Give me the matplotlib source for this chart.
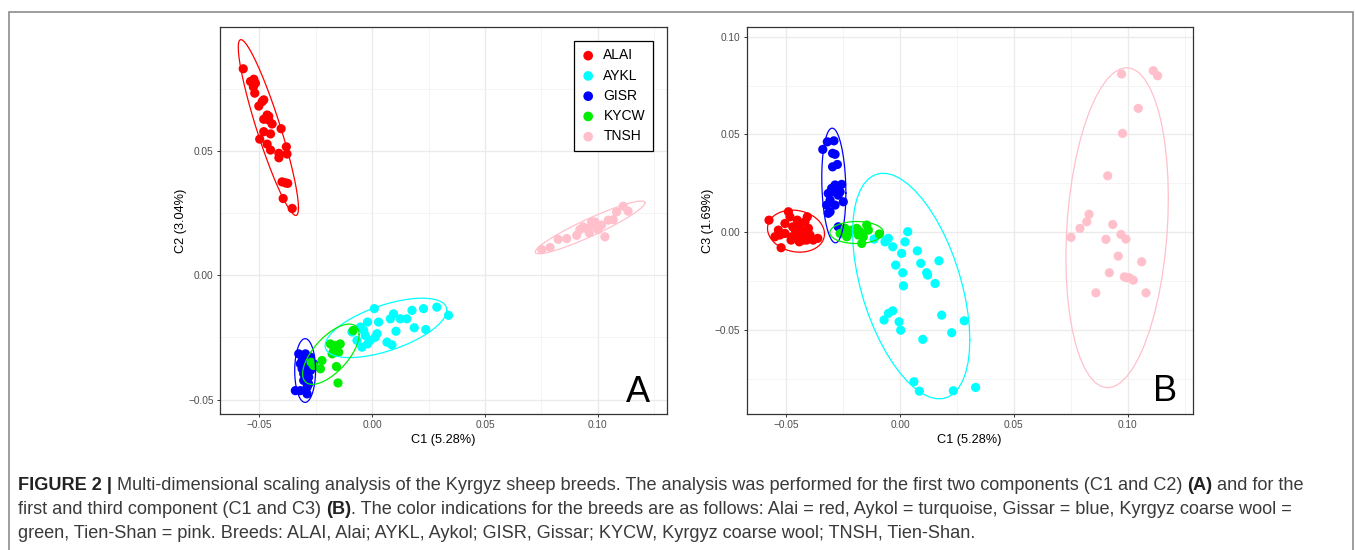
import numpy as np
import matplotlib
matplotlib.use("Agg")
import matplotlib.pyplot as plt
from matplotlib.patches import Rectangle
from matplotlib.ticker import FixedLocator, FuncFormatter

plt.rcParams['font.family'] = ['Liberation Sans', 'DejaVu Sans']

# breeds and colours
breeds = ["ALAI", "AYKL", "GISR", "KYCW", "TNSH"]
colors = ["#FF0000", "#00FFFF", "#0000FF", "#00EE00", "#FFC0CB"]

# panel A: C1 vs C2
alai_c1_a = [-0.0572, -0.0540, -0.0527, -0.0525, -0.0521, -0.0518, -0.0503, -0.0499, -0.0488, -0.0481,
             -0.0481, -0.0481, -0.0466, -0.0466, -0.0459, -0.0459, -0.0451, -0.0451, -0.0444, -0.0414,
             -0.0414, -0.0404, -0.0400, -0.0385, -0.0381, -0.0378, -0.0375, -0.0395, -0.0355]
alai_c2 = [0.0831, 0.0780, 0.0758, 0.0789, 0.0733, 0.0773, 0.0681, 0.0548, 0.0699, 0.0706,
           0.0628, 0.0578, 0.0645, 0.0528, 0.0625, 0.0640, 0.0569, 0.0504, 0.0609, 0.0491,
           0.0473, 0.0590, 0.0376, 0.0372, 0.0517, 0.0488, 0.0370, 0.0309, 0.0269]

aykl_c1_a = [0.0009, -0.0021, -0.0053, -0.0090, -0.0038, -0.0009, -0.0046, -0.0021, 0.0013, 0.0028,
             0.0080, 0.0094, 0.0124, 0.0153, 0.0176, 0.0227, 0.0286, 0.0338, 0.0186, 0.0237,
             0.0105, 0.0065, 0.0087, 0.0021, -0.0068, -0.0031]
aykl_c2 = [-0.0134, -0.0188, -0.0208, -0.0228, -0.0222, -0.0262, -0.0289, -0.0276, -0.0249, -0.0188,
           -0.0175, -0.0155, -0.0175, -0.0175, -0.0141, -0.0134, -0.0128, -0.0161, -0.0211, -0.0218,
           -0.0225, -0.0269, -0.0280, -0.0235, -0.0262, -0.0242]

gisr_c1_a = [-0.0341, -0.0319, -0.0289, -0.0282, -0.0304, -0.0289, -0.0311, -0.0274, -0.0296, -0.0319,
             -0.0274, -0.0260, -0.0304, -0.0326, -0.0304, -0.0289, -0.0311, -0.0296, -0.0282]
gisr_c2 = [-0.0464, -0.0464, -0.0477, -0.0437, -0.0396, -0.0370, -0.0343, -0.0329, -0.0316, -0.0356,
           -0.0383, -0.0356, -0.0423, -0.0316, -0.0329, -0.0450, -0.0376, -0.0343, -0.0410]

kycw_c1_a = [-0.0085, -0.0186, -0.0164, -0.0142, -0.0171, -0.0149, -0.0178, -0.0223, -0.0260, -0.0230,
             -0.0159, -0.0152, -0.0271]
kycw_c2 = [-0.0222, -0.0276, -0.0282, -0.0276, -0.0302, -0.0309, -0.0316, -0.0343, -0.0363, -0.0376,
           -0.0367, -0.0433, -0.0350]

tnsh_c1_a = [0.0751, 0.0788, 0.0824, 0.0862, 0.0906, 0.0920, 0.0935, 0.0962, 0.0972, 0.0979,
             0.1001, 0.0987, 0.1031, 0.1046, 0.1068, 0.1083, 0.1112, 0.1134, 0.1016, 0.0950]
tnsh_c2 = [0.0104, 0.0112, 0.0145, 0.0148, 0.0161, 0.0184, 0.0195, 0.0171, 0.0215, 0.0202,
           0.0184, 0.0215, 0.0155, 0.0222, 0.0224, 0.0255, 0.0278, 0.0258, 0.0202, 0.0188]

# panel B: C1 vs C3
alai_c1_b = [-0.0575, -0.0549, -0.0527, -0.0522, -0.0505, -0.0505, -0.0490, -0.0483, -0.0478, -0.0471,
             -0.0461, -0.0454, -0.0451, -0.0442, -0.0432, -0.0424, -0.0417, -0.0410, -0.0407, -0.0402,
             -0.0395, -0.0381, -0.0361, -0.0534, -0.0475, -0.0439, -0.0424]
alai_c3 = [0.0061, -0.0024, -0.0015, -0.0080, 0.0044, -0.0007, 0.0104, 0.0078, -0.0041, 0.0027,
           0.0014, -0.0015, 0.0061, -0.0050, 0.0010, -0.0007, 0.0053, -0.0041, 0.0078, 0.0019,
           -0.0015, -0.0041, -0.0032, 0.0010, -0.0024, 0.0044, -0.0041]

aykl_c1_b = [-0.0114, -0.0066, -0.0051, -0.0032, 0.0022, 0.0034, 0.0007, 0.0076, -0.0019, 0.0091,
             0.0012, 0.0117, 0.0121, 0.0171, 0.0154, 0.0015, 0.0183, -0.0032, -0.0051, -0.0070,
             -0.0004, 0.0003, 0.0100, 0.0227, 0.0282, 0.0061, 0.0085, 0.0234, 0.0332, -0.0060]
aykl_c3 = [-0.0036, -0.0050, -0.0032, -0.0075, -0.0050, 0.0002, -0.0109, -0.0096, -0.0169, -0.0160,
           -0.0208, -0.0208, -0.0220, -0.0147, -0.0263, -0.0275, -0.0425, -0.0403, -0.0416, -0.0450,
           -0.0459, -0.0502, -0.0549, -0.0515, -0.0454, -0.0766, -0.0814, -0.0812, -0.0795, -0.0040]

gisr_c1_b = [-0.0339, -0.0319, -0.0290, -0.0296, -0.0285, -0.0296, -0.0275, -0.0285, -0.0256, -0.0315,
             -0.0293, -0.0271, -0.0307, -0.0249, -0.0322, -0.0285, -0.0307, -0.0271, -0.0300, -0.0278,
             -0.0315, -0.0263]
gisr_c3 = [0.0423, 0.0462, 0.0467, 0.0403, 0.0398, 0.0334, 0.0346, 0.0241, 0.0244, 0.0198,
           0.0206, 0.0189, 0.0164, 0.0155, 0.0138, 0.0138, 0.0104, 0.0027, 0.0224, 0.0215,
           0.0096, 0.0206]

kycw_c1_b = [-0.0263, -0.0241, -0.0234, -0.0212, -0.0190, -0.0176, -0.0146, -0.0161, -0.0168, -0.0139,
             -0.0091, -0.0183, -0.0227]
kycw_c3 = [-0.0007, 0.0019, -0.0024, 0.0010, 0.0019, 0.0002, 0.0036, -0.0024, -0.0058, 0.0010,
           -0.0010, -0.0015, -0.0007]

tnsh_c1_b = [0.0751, 0.0790, 0.0820, 0.0830, 0.0860, 0.0904, 0.0912, 0.0919, 0.0934, 0.0958,
             0.0970, 0.0973, 0.0977, 0.0985, 0.0992, 0.0995, 0.1007, 0.1024, 0.1046, 0.1061,
             0.1080, 0.1112, 0.1131]
tnsh_c3 = [-0.0027, 0.0019, 0.0053, 0.0091, -0.0311, -0.0037, 0.0288, -0.0208, 0.0039, -0.0123,
           -0.0012, 0.0809, 0.0505, -0.0229, -0.0036, -0.0234, -0.0234, -0.0246, 0.0633, -0.0152,
           -0.0311, 0.0826, 0.0800]

panel_a = [(alai_c1_a, alai_c2), (aykl_c1_a, aykl_c2), (gisr_c1_a, gisr_c2),
           (kycw_c1_a, kycw_c2), (tnsh_c1_a, tnsh_c2)]
panel_b = [(alai_c1_b, alai_c3), (aykl_c1_b, aykl_c3), (gisr_c1_b, gisr_c3),
           (kycw_c1_b, kycw_c3), (tnsh_c1_b, tnsh_c3)]


def cov_trob(xy, nu=5, maxit=25, tol=0.01):
    # multivariate t robust covariance, like MASS::cov.trob
    n, p = xy.shape
    loc = xy.mean(axis=0)
    w = np.ones(n)
    for _ in range(maxit):
        w0 = w
        X = xy - loc
        _, d, vt = np.linalg.svd(np.sqrt(w / w.sum())[:, None] * X, full_matrices=False)
        wX = X @ vt.T @ np.diag(1 / d)
        Q = (wX ** 2).sum(axis=1)
        w = (nu + p) / (nu + Q)
        loc = (w[:, None] * xy).sum(axis=0) / w.sum()
        if np.all(np.abs(w - w0) < tol):
            break
    X = xy - loc
    cov = (np.sqrt(w)[:, None] * X).T @ (np.sqrt(w)[:, None] * X) / n
    return loc, cov


def t_ellipse(x, y, level=0.95, segments=51):
    xy = np.column_stack([x, y])
    n = len(x)
    loc, cov = cov_trob(xy)
    m = n - 1
    q = (m / 2) * ((1 - level) ** (-2 / m) - 1)  # qf(level, 2, m)
    radius = np.sqrt(2 * q)
    upper = np.linalg.cholesky(cov).T
    th = np.linspace(0, 2 * np.pi, segments)
    circle = np.column_stack([np.cos(th), np.sin(th)])
    return loc + radius * circle @ upper


W, H = 1355, 550
fig = plt.figure(figsize=(W / 100, H / 100), dpi=100)

ax_a = fig.add_axes([220 / W, 1 - 414 / H, 446.7 / W, 386.7 / H])
ax_b = fig.add_axes([746.7 / W, 1 - 414 / H, 446 / W, 386.7 / H])

fmt = FuncFormatter(lambda v, _: f"{v:.2f}".replace("-", "\u2212"))


def style_axes(ax, xlim, ylim, yticks, yminor, ylabel):
    ax.set_xlim(*xlim)
    ax.set_ylim(*ylim)
    ax.xaxis.set_major_locator(FixedLocator([-0.05, 0.0, 0.05, 0.10]))
    ax.xaxis.set_minor_locator(FixedLocator([-0.025, 0.025, 0.075, 0.125]))
    ax.yaxis.set_major_locator(FixedLocator(yticks))
    ax.yaxis.set_minor_locator(FixedLocator(yminor))
    ax.xaxis.set_major_formatter(fmt)
    ax.yaxis.set_major_formatter(fmt)
    ax.grid(which="major", color="#EBEBEB", linewidth=1.0)
    ax.grid(which="minor", color="#F2F2F2", linewidth=0.6)
    ax.set_axisbelow(True)
    ax.tick_params(which="major", length=2.5, width=0.7, color="#333333",
                   labelsize=7.3, labelcolor="#4D4D4D", pad=2)
    ax.tick_params(which="minor", length=0)
    for s in ax.spines.values():
        s.set_color("#333333")
        s.set_linewidth(0.9)
    ax.set_xlabel("C1 (5.28%)", fontsize=9.2, labelpad=3)
    ax.set_ylabel(ylabel, fontsize=9.2, labelpad=1)


for ax, data in [(ax_a, panel_a), (ax_b, panel_b)]:
    for (x, y), name, col in zip(data, breeds, colors):
        ax.scatter(x, y, s=44, color=col, edgecolors="none", label=name, zorder=2)
    for (x, y), col in zip(data, colors):
        e = t_ellipse(x, y)
        ax.plot(e[:, 0], e[:, 1], color=col, linewidth=0.9, zorder=3)

style_axes(ax_a, (-0.0675, 0.1305), (-0.0558, 0.0998), [-0.05, 0.0, 0.05],
           [-0.025, 0.025, 0.075], "C2 (3.04%)")
style_axes(ax_b, (-0.0673, 0.1285), (-0.0931, 0.1048), [-0.05, 0.0, 0.05, 0.10],
           [-0.075, -0.025, 0.025, 0.075], "C3 (1.69%)")

leg = ax_a.legend(loc="upper right", bbox_to_anchor=(0.9687, 0.9654), borderaxespad=0,
                  fontsize=10, frameon=True, fancybox=False, edgecolor="black", framealpha=1,
                  handletextpad=0.6, labelspacing=0.45, borderpad=0.55,
                  handlelength=1.0, markerscale=1.05)
leg.get_frame().set_linewidth(0.9)

ax_a.text(0.9626, 0.032, "A", transform=ax_a.transAxes, ha="right", va="baseline", fontsize=26)
ax_b.text(0.964, 0.034, "B", transform=ax_b.transAxes, ha="right", va="baseline", fontsize=26)

# figure frame
fig.patches.append(Rectangle((9 / W, -0.2), (1353 - 9) / W, 1.2 - 12 / H,
                             transform=fig.transFigure, fill=False,
                             edgecolor="#8C8C8C", linewidth=1.2, clip_on=False))

# caption
renderer = fig.canvas.get_renderer()
cap_size = 13.05
cap_color = "#3A3A3A"


def caption_line(x_px, y_px, parts):
    x = x_px
    for txt, weight in parts:
        t = fig.text(x / W, 1 - y_px / H, txt, fontsize=cap_size, fontweight=weight,
                     color=cap_color if weight == "normal" else "#222222", va="baseline")
        x += t.get_window_extent(renderer).width


caption_line(18, 490, [("FIGURE 2 | ", "bold"),
                       ("Multi-dimensional scaling analysis of the Kyrgyz sheep breeds. The analysis was "
                        "performed for the first two components (C1 and C2) ", "normal"),
                       ("(A)", "bold"), (" and for the", "normal")])
caption_line(18, 514, [("first and third component (C1 and C3) ", "normal"), ("(B)", "bold"),
                       (". The color indications for the breeds are as follows: Alai = red, "
                        "Aykol = turquoise, Gissar = blue, Kyrgyz coarse wool =", "normal")])
caption_line(18, 538, [("green, Tien-Shan = pink. Breeds: ALAI, Alai; AYKL, Aykol; GISR, Gissar; "
                        "KYCW, Kyrgyz coarse wool; TNSH, Tien-Shan.", "normal")])

fig.savefig("out.png", dpi=100)
